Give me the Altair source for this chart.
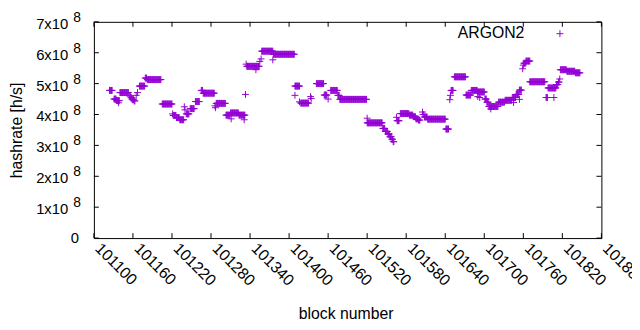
import altair as alt
import pandas as pd

# ---- data (hashrate estimate per block) ----
# runs of consecutive blocks that share the same hashrate value
run_start = [101124, 101131, 101135, 101138, 101140, 101155, 101157, 101159, 101162, 101165,
             101167, 101170, 101179, 101182, 101205, 101221, 101222, 101227, 101232, 101239,
             101240, 101242, 101248, 101256, 101265, 101268, 101286, 101287, 101288, 101303,
             101310, 101311, 101323, 101331, 101333, 101334, 101335, 101349, 101355, 101357,
             101358, 101375, 101376, 101409, 101409, 101416, 101418, 101433, 101434, 101442,
             101454, 101460, 101464, 101475, 101478, 101520, 101520, 101544, 101548, 101552,
             101555, 101558, 101560, 101565, 101566, 101571, 101585, 101591, 101595, 101599,
             101605, 101606, 101608, 101613, 101641, 101647, 101648, 101649, 101654, 101672,
             101680, 101690, 101690, 101693, 101701, 101704, 101707, 101710, 101722, 101732,
             101743, 101745, 101749, 101754, 101754, 101759, 101760, 101761, 101764, 101770,
             101795, 101807, 101798, 101811, 101814, 101816, 101817, 101827, 101840]
run_end = [101128, 101134, 101139, 101138, 101153, 101156, 101158, 101161, 101163, 101165,
           101167, 101178, 101181, 101203, 101220, 101221, 101226, 101231, 101238, 101239,
           101240, 101246, 101254, 101262, 101267, 101285, 101286, 101287, 101302, 101309,
           101322, 101311, 101332, 101331, 101333, 101334, 101354, 101349, 101355, 101357,
           101375, 101375, 101408, 101409, 101416, 101416, 101430, 101433, 101434, 101453,
           101458, 101460, 101474, 101477, 101519, 101520, 101543, 101547, 101551, 101554,
           101557, 101559, 101561, 101565, 101569, 101584, 101590, 101594, 101598, 101601,
           101605, 101607, 101612, 101640, 101645, 101647, 101648, 101652, 101671, 101679,
           101689, 101700, 101690, 101693, 101703, 101706, 101721, 101710, 101731, 101742,
           101748, 101745, 101753, 101757, 101754, 101759, 101760, 101763, 101770, 101793,
           101797, 101807, 101810, 101813, 101815, 101816, 101826, 101839, 101847]
run_value = [4.78, 4.50, 4.45, 4.38, 4.71, 4.60, 4.54, 4.48, 4.44, 4.62,
             4.71, 4.92, 5.18, 5.13, 4.34, 4.02, 3.97, 3.90, 3.83, 4.25,
             4.15, 4.02, 4.19, 4.42, 4.78, 4.69, 4.28, 4.22, 4.36, 3.98,
             4.05, 3.86, 3.98, 3.83, 4.65, 5.63, 5.56, 5.45, 5.72, 5.80,
             6.05, 5.77, 5.95, 4.62, 4.92, 4.41, 4.37, 4.58, 4.52, 5.00,
             4.63, 4.50, 4.78, 4.62, 4.49, 3.88, 3.73, 3.55, 3.45, 3.37,
             3.28, 3.20, 3.12, 3.91, 3.80, 4.03, 3.98, 3.93, 3.86, 3.82,
             4.08, 4.00, 3.92, 3.85, 3.53, 4.48, 4.62, 4.78, 5.22, 4.63,
             4.78, 4.73, 4.58, 4.55, 4.50, 4.40, 4.26, 4.18, 4.40, 4.46,
             4.55, 4.39, 4.65, 4.79, 4.49, 5.48, 5.60, 5.66, 5.73, 5.06,
             4.55, 4.55, 4.86, 4.97, 5.05, 5.15, 5.45, 5.40, 5.35]  # x 1e8 h/s

series_name = "ARGON2"
x_ticks = [101100, 101160, 101220, 101280, 101340, 101400, 101460,
           101520, 101580, 101640, 101700, 101760, 101820, 101880]
x_tick_labels = [str(v) for v in x_ticks]
y_ticks = [0, 1e8, 2e8, 3e8, 4e8, 5e8, 6e8, 7e8]
y_label_values = [1e8, 2e8, 3e8, 4e8, 5e8, 6e8, 7e8]
y_label_text = ["1x10", "2x10", "3x10", "4x10", "5x10", "6x10", "7x10"]
y_label_exp = "8"
y_zero_label = "0"

# ---- build tables ----
rows = []
for s, e, v in zip(run_start, run_end, run_value):
    for b in range(s, e + 1):
        rows.append({"block": b, "hashrate": v * 1e8, "series": series_name})
points = pd.DataFrame(rows)
xt = pd.DataFrame({"block": x_ticks, "label": x_tick_labels})
yt = pd.DataFrame({"hashrate": y_ticks})
yl = pd.DataFrame({"hashrate": y_label_values, "label": y_label_text, "exp": y_label_exp})
y0 = pd.DataFrame({"hashrate": [0.0], "label": [y_zero_label]})
leg = pd.DataFrame({"series": [series_name]})

W, H = 514, 219
PURPLE = "#9400D3"
FONT = "Liberation Sans"
FS = 16
FSY = 15
PLUS = "M-1,0L1,0M0,-1L0,1"

xs = alt.Scale(domain=[101100, 101880], nice=False, zero=False)
ys = alt.Scale(domain=[0, 7e8], nice=False, zero=False)

pts = alt.Chart(points).mark_point(
    shape=PLUS, filled=False, size=49, strokeWidth=1, color=PURPLE, opacity=1
).encode(
    x=alt.X("block:Q", scale=xs, axis=alt.Axis(
        labels=False, ticks=False, domain=False, grid=False,
        title="block number", titleFont=FONT,
        titleFontSize=FS, titleFontWeight="normal", titleColor="black",
        titleX=255, titleY=76, titleAlign="center", titleBaseline="middle")),
    y=alt.Y("hashrate:Q", scale=ys, axis=alt.Axis(
        labels=False, ticks=False, domain=False, grid=False,
        title="hashrate [h/s]", titleFont=FONT, titleFontSize=FS,
        titleFontWeight="normal", titleColor="black", titleAngle=270,
        titleX=-78, titleY=H / 2, titleAlign="center", titleBaseline="middle")),
)

tick_style = dict(color="black", strokeWidth=1)
xb = alt.Chart(xt).mark_rule(**tick_style).encode(
    x="block:Q", y=alt.value(H), y2=alt.value(H - 5))
xtop = alt.Chart(xt).mark_rule(**tick_style).encode(
    x="block:Q", y=alt.value(0), y2=alt.value(5))
yleft = alt.Chart(yt).mark_rule(**tick_style).encode(
    y="hashrate:Q", x=alt.value(0), x2=alt.value(5))
yright = alt.Chart(yt).mark_rule(**tick_style).encode(
    y="hashrate:Q", x=alt.value(W), x2=alt.value(W - 5))

xlab = alt.Chart(xt).mark_text(
    align="left", baseline="middle", angle=45, font=FONT, fontSize=FS,
    color="black", xOffset=4
).encode(x="block:Q", y=alt.value(H + 8), text="label:N")

ylab = alt.Chart(yl).mark_text(
    align="right", baseline="middle", font=FONT, fontSize=FSY, color="black", dy=2
).encode(y="hashrate:Q", x=alt.value(-26), text="label:N")
yexp = alt.Chart(yl).mark_text(
    align="left", baseline="middle", font=FONT, fontSize=FSY - 1, color="black", dy=-4
).encode(y="hashrate:Q", x=alt.value(-21), text="exp:N")
yzero = alt.Chart(y0).mark_text(
    align="right", baseline="middle", font=FONT, fontSize=FSY, color="black"
).encode(y="hashrate:Q", x=alt.value(-15), text="label:N")

leg_text = alt.Chart(leg).mark_text(
    align="right", baseline="middle", font=FONT, fontSize=FS, color="black"
).encode(x=alt.value(436), y=alt.value(11), text="series:N")
leg_pt = alt.Chart(leg).mark_point(
    shape=PLUS, filled=False, size=49, strokeWidth=1, color=PURPLE, opacity=1
).encode(x=alt.value(472), y=alt.value(12))

chart = alt.layer(
    pts, xb, xtop, yleft, yright, xlab, ylab, yexp, yzero, leg_text, leg_pt
).properties(
    width=W, height=H, autosize="none",
    padding={"left": 87, "top": 12, "right": 31, "bottom": 84},
    background="white",
).configure_view(
    stroke="black", strokeWidth=1
)

chart.save("out.html", embed_options={"renderer": "svg", "actions": False})
